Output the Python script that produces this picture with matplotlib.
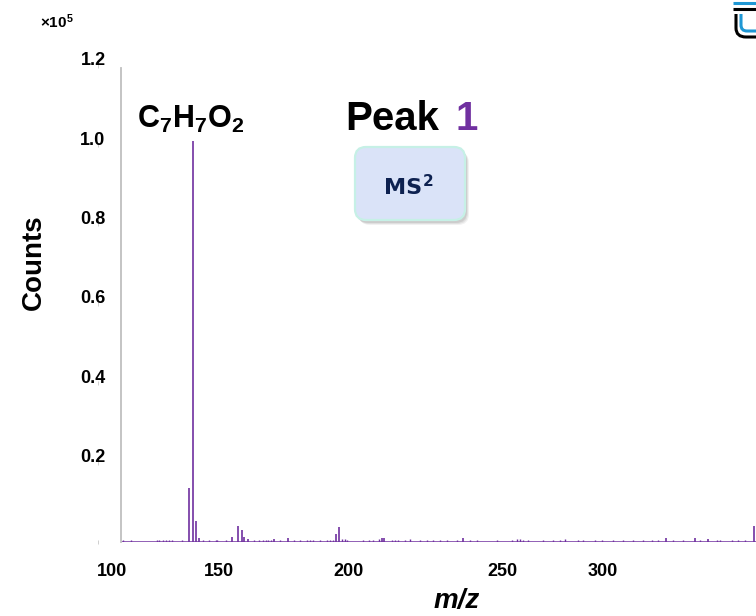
import matplotlib
matplotlib.use("Agg")
import matplotlib.pyplot as plt
import matplotlib.transforms as mtransforms
from matplotlib.patches import FancyBboxPatch, PathPatch
from matplotlib.path import Path

plt.rcParams['font.family'] = ['Liberation Sans', 'DejaVu Sans']
plt.rcParams['mathtext.fontset'] = 'custom'
plt.rcParams['mathtext.rm'] = 'Liberation Sans:bold'
plt.rcParams['mathtext.bf'] = 'Liberation Sans:bold'
plt.rcParams['mathtext.it'] = 'Liberation Sans:bold:italic'

# MS2 spectrum, counts in units of 1e5
main_mz = [122.0, 123.1, 124.2, 125.2, 135.8, 137.8, 139.0, 139.8, 140.9,
           149.4, 153.8, 169.5, 170.5, 184.2, 185.0, 210.5, 275.9, 285.3,
           289.6, 304.3]
main_counts = [0.135, 1.01, 0.053, 0.010, 0.012, 0.040, 0.030, 0.013, 0.007,
               0.008, 0.010, 0.021, 0.037, 0.010, 0.010, 0.010, 0.010, 0.010,
               0.008, 0.040]

noise_mz = [100.7, 103.1, 111.5, 112.4, 113.4, 114.5, 115.6, 116.4, 119.6,
            126.4, 128.4, 130.6, 131.1, 133.9, 142.9, 144.6, 145.9, 146.8,
            147.6, 148.3, 151.3, 155.8, 157.8, 159.9, 161.0, 162.1, 164.2,
            166.4, 167.5, 168.5, 171.4, 172.3, 172.9, 178.0, 180.2, 181.4,
            183.4, 187.4, 188.4, 189.5, 191.7, 193.3, 196.5, 198.7, 200.8,
            203.0, 205.1, 208.4, 212.7, 214.8, 221.3, 226.1, 227.7, 228.8,
            229.9, 231.5, 236.3, 239.5, 241.7, 243.3, 247.6, 249.2, 253.0,
            255.2, 258.9, 262.1, 265.4, 268.6, 271.3, 273.4, 278.3, 281.5,
            286.9, 292.3, 293.4, 297.1, 299.3, 301.4]
noise_counts = [0.005, 0.004, 0.006, 0.005, 0.005, 0.004, 0.005, 0.004, 0.004,
                0.005, 0.006, 0.006, 0.004, 0.004, 0.004, 0.004, 0.004, 0.005,
                0.004, 0.005, 0.004, 0.004, 0.005, 0.004, 0.005, 0.004, 0.005,
                0.004, 0.005, 0.005, 0.007, 0.007, 0.005, 0.004, 0.005, 0.004,
                0.007, 0.005, 0.004, 0.005, 0.005, 0.007, 0.005, 0.004, 0.005,
                0.004, 0.005, 0.005, 0.005, 0.004, 0.005, 0.005, 0.007, 0.007,
                0.005, 0.005, 0.005, 0.005, 0.004, 0.007, 0.005, 0.004, 0.005,
                0.005, 0.006, 0.005, 0.006, 0.005, 0.005, 0.004, 0.005, 0.005,
                0.005, 0.005, 0.006, 0.004, 0.005, 0.005]

y_ticks = [0.0, 0.2, 0.4, 0.6, 0.8, 1.0, 1.2]
y_labels = ['', '0.2', '0.4', '0.6', '0.8', '1.0', '1.2']
x_labels = ['100', '150', '200', '250', '300']
x_label_px = [112, 219, 349, 502, 603]

purple = '#7030A0'
W, H = 756, 616

fig = plt.figure(figsize=(W / 100, H / 100), dpi=100)
ax = fig.add_axes([121 / W, 1 - 542 / H, 635 / W, 474 / H])
ax.set_xlim(100, 305)
ax.set_ylim(0, 1.194)

ax.vlines(noise_mz, 0, noise_counts, color=purple, lw=1.0)
ax.vlines(main_mz, 0, main_counts, color=purple, lw=1.2)
ax.hlines(0, 100, 305, color=purple, lw=1.8)

for s in ['top', 'right', 'bottom']:
    ax.spines[s].set_visible(False)
ax.spines['left'].set_color('#BFBFBF')
ax.spines['left'].set_linewidth(1.3)
ax.set_xticks([])
ax.set_yticks([])
ax.patch.set_alpha(0)

# y tick marks sit away from the spine, labels just above them
ytr = ax.get_yaxis_transform()
lab_tr = mtransforms.offset_copy(ytr, fig=fig, x=0, y=5, units='dots')
for v, lab in zip(y_ticks, y_labels):
    ax.plot([-0.0362], [v], marker='|', ms=3, mew=0.6, color='#C8C8C8',
            transform=ytr, clip_on=False)
    if lab:
        ax.text(-0.0441, v, lab, transform=lab_tr, ha='center', va='center',
                fontsize=13, fontweight='bold', clip_on=False)

# overlay in pixel coordinates for the annotations
ov = fig.add_axes([0, 0, 1, 1])
ov.set_xlim(0, W)
ov.set_ylim(H, 0)
ov.axis('off')

for xp, lab in zip(x_label_px, x_labels):
    ov.text(xp, 572, lab, ha='center', va='center', fontsize=13,
            fontweight='bold')

ov.text(34, 262, 'Counts', rotation=90, ha='center', va='center',
        fontsize=20, fontweight='bold')
ov.text(457, 601, 'm/z', ha='center', va='center', fontsize=20,
        fontweight='bold', style='italic')
ov.text(57, 22, r'$\times\mathbf{10^{5}}$', ha='center', va='center',
        fontsize=11)

ov.text(137, 128, r'$\mathbf{C_7H_7O_2}$', ha='left', va='baseline',
        fontsize=22)
ov.text(345, 130, 'Peak', ha='left', va='baseline', fontsize=29,
        fontweight='bold')
ov.text(455, 130, '1', ha='left', va='baseline', fontsize=29,
        fontweight='bold', color=purple)

# MS2 badge with a soft shadow
for dx, a in [(5, 0.10), (4, 0.15), (3, 0.20)]:
    ov.add_patch(FancyBboxPatch((355 + dx - 1, 147 + dx), 110, 73,
                                boxstyle='round,pad=0,rounding_size=11',
                                fc='#7F7F7F', ec='none', alpha=a))
badge = FancyBboxPatch((355, 147), 110, 73,
                       boxstyle='round,pad=0,rounding_size=11',
                       fc='#DAE3F8', ec='#C6F0E6', lw=1.6)
ov.add_patch(badge)
ov.text(384, 194, 'MS', ha='left', va='baseline', fontsize=16,
        fontweight='bold', color='#0D2150', family='DejaVu Sans')
ov.text(423, 186, '2', ha='left', va='baseline', fontsize=11,
        fontweight='bold', color='#0D2150', family='DejaVu Sans')

# corner logo
ov.plot([733, 756], [3, 3], color='#1F97D4', lw=2.2, solid_capstyle='butt')
ov.plot([733, 756], [9, 9], color='black', lw=2.2, solid_capstyle='butt')
outer = Path([(736, 14), (736, 28), (736, 37), (746, 37), (756, 37)],
             [Path.MOVETO, Path.LINETO, Path.CURVE3, Path.CURVE3, Path.LINETO])
inner = Path([(741, 14), (741, 25), (741, 31), (747, 31), (756, 31)],
             [Path.MOVETO, Path.LINETO, Path.CURVE3, Path.CURVE3, Path.LINETO])
ov.add_patch(PathPatch(outer, fc='none', ec='black', lw=2.2))
ov.add_patch(PathPatch(inner, fc='none', ec='#1F97D4', lw=2.2))

fig.savefig('out.png', dpi=100)
